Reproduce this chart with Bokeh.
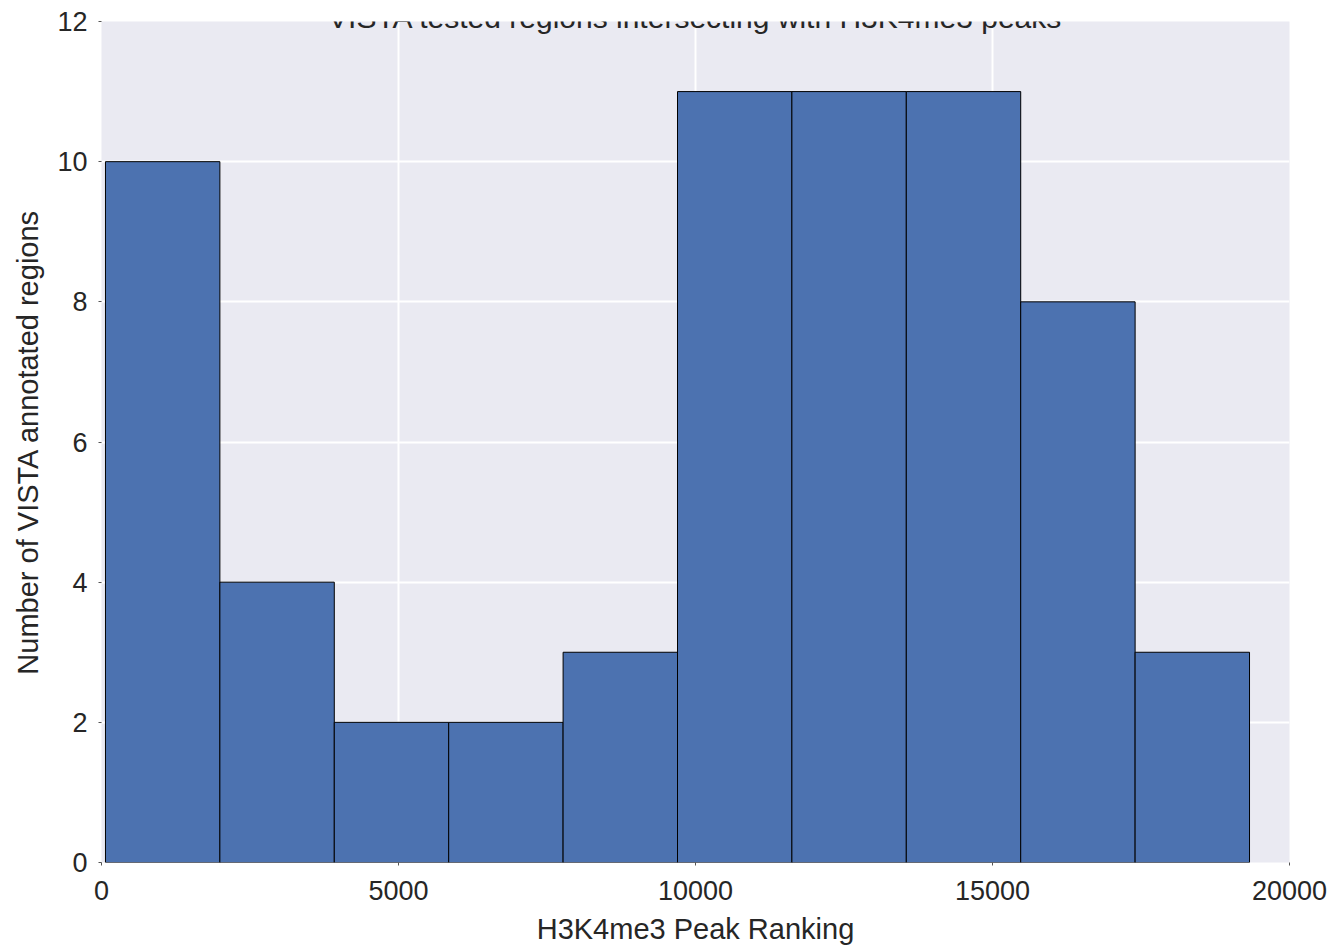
import numpy as np
from bokeh.plotting import figure
from bokeh.models import Range1d, FixedTicker, Label, ColumnDataSource
from bokeh.embed import file_html
from bokeh.resources import INLINE

# ---- data ----
title_text = "VISTA tested regions intersecting with H3K4me3 peaks"
x_label = "H3K4me3 Peak Ranking"
y_label = "Number of VISTA annotated regions"
hist_min = 67       # smallest peak rank (left edge of first bin)
hist_max = 19327    # largest peak rank (right edge of last bin)
counts = [10, 4, 2, 2, 3, 11, 11, 11, 8, 3]
x_ticks = [0, 5000, 10000, 15000, 20000]
y_ticks = [0, 2, 4, 6, 8, 10, 12]

edges = np.linspace(hist_min, hist_max, len(counts) + 1)
src = ColumnDataSource(dict(left=edges[:-1], right=edges[1:],
                            top=counts, bottom=[0] * len(counts)))

FONT = "Liberation Sans"
TXT = "#262626"

p = figure(width=1334, height=947, output_backend="svg", toolbar_location=None,
           title=None,
           x_range=Range1d(0, 20000), y_range=Range1d(0, 12),
           min_border_left=101, min_border_right=45,
           min_border_top=21, min_border_bottom=83)

p.background_fill_color = "#EAEAF2"
p.border_fill_color = "white"
p.outline_line_color = None

p.quad(left="left", right="right", top="top", bottom="bottom", source=src,
       fill_color="#4C72B0", line_color="#000000", line_width=1)

for g in (p.xgrid[0], p.ygrid[0]):
    g.grid_line_color = "white"
    g.grid_line_width = 2

p.xaxis.ticker = FixedTicker(ticks=x_ticks)
p.yaxis.ticker = FixedTicker(ticks=y_ticks)
p.xaxis.major_label_overrides = {t: str(t) for t in x_ticks}
p.yaxis.major_label_overrides = {t: str(t) for t in y_ticks}

for ax in (p.xaxis[0], p.yaxis[0]):
    ax.axis_line_color = None
    ax.major_tick_in = 0
    ax.major_tick_out = 3
    ax.major_tick_line_color = "#555555"
    ax.minor_tick_in = 0
    ax.minor_tick_out = 0
    ax.major_label_text_font = FONT
    ax.major_label_text_font_size = "27px"
    ax.major_label_text_color = TXT
    ax.axis_label_text_font = FONT
    ax.axis_label_text_font_size = "29px"
    ax.axis_label_text_font_style = "normal"
    ax.axis_label_text_color = TXT

p.xaxis.axis_label = x_label
p.yaxis.axis_label = y_label
p.xaxis.major_label_standoff = 15
p.yaxis.major_label_standoff = 11
p.xaxis.axis_label_standoff = 10
p.yaxis.axis_label_standoff = 10

# title sits partly above the page edge, as in the reference
p.add_layout(Label(x=10000, y=12.064, text=title_text, text_align="center",
                   text_baseline="alphabetic", text_font=FONT,
                   text_font_size="30px", text_color=TXT))

open("out.html", "w").write(file_html(p, INLINE))
